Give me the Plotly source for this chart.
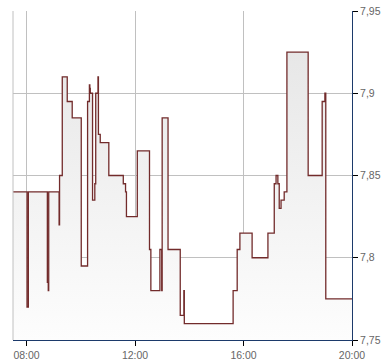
import plotly.graph_objects as go

day = "2024-01-02"
times = ["07:30","08:01","08:04","08:46","08:48","08:49","09:12","09:13","09:19","09:30","09:41",
         "10:01","10:15","10:19","10:20","10:21","10:26","10:31","10:33","10:38","10:39","10:43",
         "11:02","11:34","11:39","11:41","12:05","12:32","12:35","12:55","12:59","13:00","13:13",
         "13:40","13:48","13:49","15:37","15:46","15:52","16:19","16:54","17:08","17:12","17:16",
         "17:19","17:23","17:30","17:36","18:23","18:54","19:00","19:02","20:00"]
prices = [7.84,7.77,7.84,7.785,7.78,7.84,7.82,7.85,7.91,7.895,7.885,
          7.795,7.895,7.905,7.903,7.90,7.835,7.845,7.90,7.91,7.875,7.87,
          7.85,7.845,7.84,7.825,7.865,7.805,7.78,7.805,7.78,7.885,7.805,
          7.765,7.78,7.76,7.78,7.805,7.815,7.80,7.815,7.845,7.85,7.845,
          7.83,7.835,7.84,7.925,7.85,7.895,7.90,7.775,7.775]
y_ticks = [7.75, 7.8, 7.85, 7.9, 7.95]
y_labels = ["7,75", "7,8", "7,85", "7,9", "7,95"]
x_ticks = ["08:00", "12:00", "16:00", "20:00"]

xs = [f"{day} {t}" for t in times]

fig = go.Figure()
fig.add_trace(go.Scatter(
    x=xs, y=prices, mode="lines", line=dict(color="#722b2b", width=1.3, shape="hv"),
    fill="tozeroy",
    fillgradient=dict(type="vertical", colorscale=[[0, "#fdfdfd"], [1, "#e4e4e4"]],
                      start=7.75, stop=7.95),
    hoverinfo="skip", showlegend=False,
))

fig.add_shape(type="line", xref="paper", yref="paper", x0=0, x1=0, y0=0, y1=1,
              line=dict(color="#c0c0c0", width=1), layer="above")

fig.update_layout(
    width=390, height=364,
    margin=dict(l=13, r=38, t=11, b=24, autoexpand=False),
    paper_bgcolor="white", plot_bgcolor="white",
    font=dict(family="Liberation Sans, Arial, sans-serif", size=10.5, color="#666666"),
    xaxis=dict(
        type="date", automargin=False,
        range=[f"{day} 07:30", f"{day} 20:00"],
        tickvals=[f"{day} {t}" for t in x_ticks], ticktext=x_ticks,
        showgrid=True, gridcolor="#c0c0c0", gridwidth=1,
        showline=True, linecolor="#1c3a6b", linewidth=1,
        ticks="outside", ticklen=5, tickcolor="#000000",
        zeroline=False,
    ),
    yaxis=dict(
        side="right", range=[7.75, 7.95], automargin=False,
        tickvals=y_ticks, ticktext=y_labels,
        showgrid=True, gridcolor="#c0c0c0", gridwidth=1,
        showline=True, linecolor="#1c3a6b", linewidth=1,
        ticks="outside", ticklen=5, tickcolor="#000000",
        zeroline=False,
    ),
)

fig.write_html("out.html")
